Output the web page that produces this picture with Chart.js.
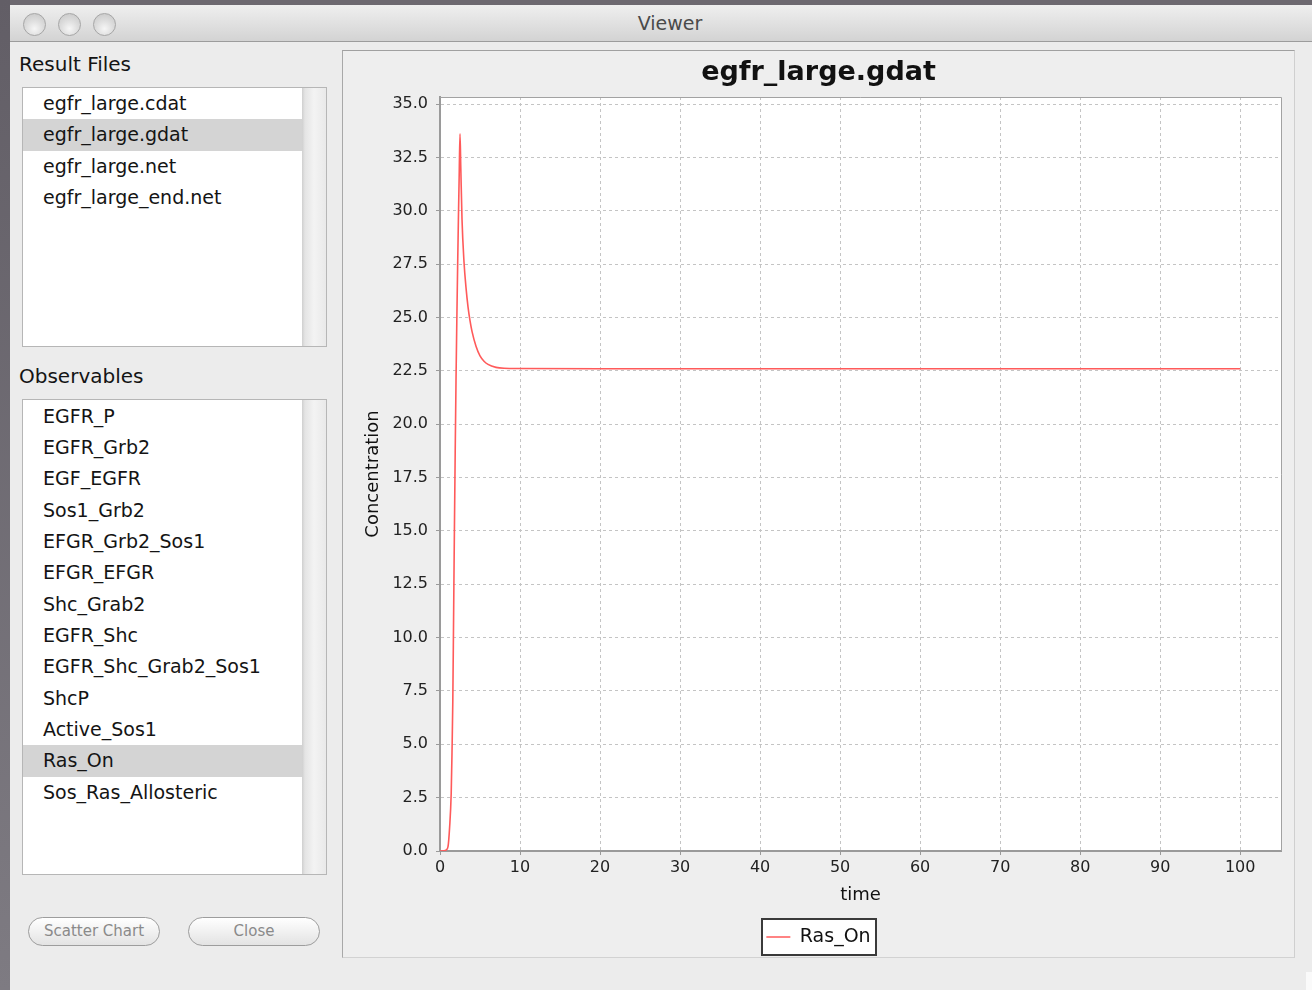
<!DOCTYPE html>
<html>
<head>
<meta charset="utf-8">
<script src="https://cdn.jsdelivr.net/npm/chart.js@4.4.1/dist/chart.umd.min.js"></script>
<style>
html,body{margin:0;padding:0}
body{width:1312px;height:990px;position:relative;overflow:hidden;background:#6d6970;font-family:'DejaVu Sans',sans-serif;color:#111}
.abs{position:absolute}
#leftstrip{left:0;top:0;width:10px;height:990px;background:linear-gradient(#625e66,#7e7b82)}
#win{left:10px;top:5px;width:1302px;height:985px;background:#ececec}
#titlebar{left:10px;top:5px;width:1302px;height:36px;background:linear-gradient(#efefef,#d3d3d3);border-bottom:1px solid #9c9c9c}
.tl{top:13px;width:23px;height:23px;border-radius:50%;box-sizing:border-box;border:1px solid #a6a6a6;background:radial-gradient(circle at 50% 70%,#f6f6f6 0,#dedede 45%,#c4c4c4 100%)}
#wtitle{left:10px;top:11px;width:1320px;text-align:center;font-size:19px;line-height:24px;color:#4a4a4a}
.lbl{font-size:20px;line-height:24px;color:#141414}
.list{background:#fff;border:1px solid #b6b6b6;box-sizing:border-box}
.row{position:absolute;left:0;width:279px;height:31.4px;line-height:31.4px;font-size:19px;padding-left:20px;box-sizing:border-box;white-space:nowrap;color:#141414}
.sel{background:#d4d4d4}
.sb{position:absolute;right:0;top:0;width:24px;height:100%;background:linear-gradient(to right,#cfcfcf 0,#e4e4e4 3px,#f3f3f3 50%,#e9e9e9 100%)}
.btn{top:917px;width:132px;height:29px;border-radius:15px;box-sizing:border-box;border:1px solid #9d9d9d;background:linear-gradient(#ffffff,#f1f1f1 50%,#e3e3e3);color:#8a8a8a;font-size:15px;line-height:27px;text-align:center}
#panel{left:342px;top:50px;width:953px;height:908px;box-sizing:border-box;border:1px solid;border-color:#a0a0a0 #cfcfcf #d2d2d2 #a8a8a8;background:#eeeeee}
#cv{left:343px;top:51px}
#grip{left:1306px;top:972px;width:6px;height:18px;background:#fafafa}
</style>
</head>
<body>
<div id="leftstrip" class="abs"></div>
<div id="win" class="abs"></div>
<div id="titlebar" class="abs"></div>
<div class="abs tl" style="left:23px"></div>
<div class="abs tl" style="left:58px"></div>
<div class="abs tl" style="left:93px"></div>
<div id="wtitle" class="abs">Viewer</div>

<div class="abs lbl" style="left:19px;top:52px">Result Files</div>
<div class="abs list" style="left:22px;top:87px;width:305px;height:260px">
  <div class="row" style="top:0px">egfr_large.cdat</div>
  <div class="row sel" style="top:31.4px">egfr_large.gdat</div>
  <div class="row" style="top:62.8px">egfr_large.net</div>
  <div class="row" style="top:94.2px">egfr_large_end.net</div>
  <div class="sb"></div>
</div>

<div class="abs lbl" style="left:19px;top:364px">Observables</div>
<div class="abs list" style="left:22px;top:399px;width:305px;height:476px">
  <div class="row" style="top:0.5px">EGFR_P</div>
  <div class="row" style="top:31.86px">EGFR_Grb2</div>
  <div class="row" style="top:63.22px">EGF_EGFR</div>
  <div class="row" style="top:94.58px">Sos1_Grb2</div>
  <div class="row" style="top:125.94px">EFGR_Grb2_Sos1</div>
  <div class="row" style="top:157.3px">EFGR_EFGR</div>
  <div class="row" style="top:188.66px">Shc_Grab2</div>
  <div class="row" style="top:220.02px">EGFR_Shc</div>
  <div class="row" style="top:251.38px">EGFR_Shc_Grab2_Sos1</div>
  <div class="row" style="top:282.74px">ShcP</div>
  <div class="row" style="top:314.1px">Active_Sos1</div>
  <div class="row sel" style="top:345.46px">Ras_On</div>
  <div class="row" style="top:376.82px">Sos_Ras_Allosteric</div>
  <div class="sb"></div>
</div>

<div class="abs btn" style="left:28px">Scatter Chart</div>
<div class="abs btn" style="left:188px">Close</div>

<div id="panel" class="abs"></div>
<canvas id="cv" class="abs" width="951" height="906"></canvas>
<div id="grip" class="abs"></div>

<script>
// ---- data ----
const chartTitle = 'egfr_large.gdat';
const seriesName = 'Ras_On';
const xTitle = 'time';
const yTitle = 'Concentration';
const times = [0, 0.5, 0.8, 1.0, 1.2, 1.4, 1.5, 1.6, 1.7, 1.8, 1.9, 2.0, 2.1, 2.2, 2.3, 2.4, 2.5,
               2.6, 2.75, 3.0, 3.25, 3.5, 3.75, 4.0, 4.5, 5.0, 5.5, 6.0, 7.0, 8.0, 10,
               20, 30, 40, 50, 60, 70, 80, 90, 100];
const rasOn = [0, 0.01, 0.06, 0.2, 1.1, 2.7, 4.6, 7.0, 11.0, 15.0, 18.7, 22.0, 24.8, 27.3, 29.6, 31.7, 33.6,
               32.0, 29.6, 27.6, 26.4, 25.5, 24.85, 24.35, 23.65, 23.2, 22.95, 22.8, 22.66, 22.62, 22.61,
               22.6, 22.6, 22.6, 22.6, 22.6, 22.6, 22.6, 22.6, 22.6];
const xTickValues = [0, 10, 20, 30, 40, 50, 60, 70, 80, 90, 100];
const yTickValues = [0, 2.5, 5, 7.5, 10, 12.5, 15, 17.5, 20, 22.5, 25, 27.5, 30, 32.5, 35];

const points = times.map((t, i) => ({x: t, y: rasOn[i]}));

const decorPlugin = {
  id: 'decor',
  beforeDraw(chart) {
    const {ctx, chartArea: a} = chart;
    ctx.save();
    ctx.fillStyle = '#ffffff';
    ctx.fillRect(a.left, a.top, a.right - a.left, a.bottom - a.top);
    const lg = chart.legend;
    if (lg && lg.legendHitBoxes && lg.legendHitBoxes[0]) {
      const hb = lg.legendHitBoxes[0];
      const cy = hb.top + hb.height / 2;
      const x0 = Math.round(hb.left - 4), x1 = Math.round(hb.left + hb.width + 5);
      const y0 = Math.round(cy - 18), y1 = Math.round(cy + 18);
      ctx.fillRect(x0, y0, x1 - x0, y1 - y0);
      ctx.strokeStyle = '#3a3a3a';
      ctx.lineWidth = 2;
      ctx.strokeRect(x0, y0, x1 - x0, y1 - y0);
    }
    ctx.restore();
  },
  beforeDatasetsDraw(chart) {
    const {ctx, chartArea: a} = chart;
    ctx.save();
    ctx.strokeStyle = '#a2a2a2';
    ctx.lineWidth = 1;
    ctx.beginPath();
    ctx.moveTo(a.left, Math.round(a.top) + 0.5);
    ctx.lineTo(Math.round(a.right) + 0.5, Math.round(a.top) + 0.5);
    ctx.lineTo(Math.round(a.right) + 0.5, a.bottom);
    ctx.stroke();
    ctx.restore();
  }
};

Chart.defaults.font.family = "'DejaVu Sans', sans-serif";

new Chart(document.getElementById('cv'), {
  type: 'line',
  data: {
    datasets: [{
      label: seriesName,
      data: points,
      borderColor: '#ff5a5a',
      backgroundColor: '#ff5a5a',
      borderWidth: 1.6,
      pointRadius: 0,
      fill: false,
      cubicInterpolationMode: 'monotone'
    }]
  },
  options: {
    responsive: false,
    animation: false,
    devicePixelRatio: 1,
    layout: {padding: {left: 0, right: 0, top: 0, bottom: 0.5}},
    plugins: {
      title: {
        display: true, text: chartTitle, color: '#111',
        font: {size: 27, weight: 'bold'},
        padding: {top: 5.8, bottom: 7.8}
      },
      legend: {
        position: 'bottom',
        labels: {
          usePointStyle: true, pointStyle: 'line', pointStyleWidth: 24,
          padding: 21.5, color: '#111', font: {size: 19}
        }
      },
      tooltip: {enabled: false}
    },
    scales: {
      x: {
        type: 'linear', min: 0, max: 105.1,
        afterBuildTicks: s => { s.ticks = xTickValues.map(v => ({value: v})); },
        afterFit: s => { s.height = 55; },
        ticks: {padding: 3, color: '#222', font: {size: 16}, maxRotation: 0, autoSkip: false,
                callback: v => String(v)},
        grid: {color: '#c4c4c4', lineWidth: 1, tickColor: '#9a9a9a', tickLength: 4, tickWidth: 1, tickBorderDash: []},
        border: {display: true, color: '#9a9a9a', width: 2, dash: [3, 3]},
        title: {display: true, text: xTitle, color: '#111', font: {size: 18}, padding: {top: 0, bottom: 0}}
      },
      y: {
        type: 'linear', min: 0, max: 35.33,
        afterBuildTicks: s => { s.ticks = yTickValues.map(v => ({value: v})); },
        afterFit: s => { s.width = 97; },
        ticks: {padding: 8, color: '#222', font: {size: 16}, autoSkip: false,
                callback: v => Number(v).toFixed(1)},
        grid: {color: '#c4c4c4', lineWidth: 1, tickColor: '#9a9a9a', tickLength: 4, tickWidth: 1, tickBorderDash: []},
        border: {display: true, color: '#9a9a9a', width: 2, dash: [3, 3]},
        title: {display: true, text: yTitle, color: '#111', font: {size: 18}, padding: {top: 19.2, bottom: 0}}
      },
      yRightGap: {
        type: 'linear', position: 'right', display: true,
        afterFit: s => { s.width = 13; },
        ticks: {display: false},
        grid: {display: false, drawTicks: false},
        border: {display: false},
        title: {display: false}
      }
    }
  },
  plugins: [decorPlugin]
});
</script>
</body>
</html>
